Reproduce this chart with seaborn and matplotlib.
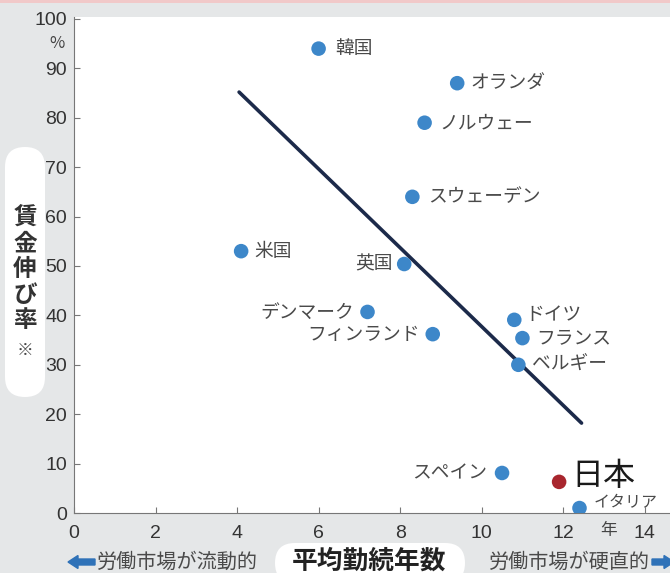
import pandas as pd
import matplotlib.pyplot as plt
import matplotlib.patches as mpatches
import seaborn as sns

# data
countries = ['韓国', 'オランダ', 'ノルウェー', 'スウェーデン', '米国', '英国', 'デンマーク',
             'フィンランド', 'ドイツ', 'フランス', 'ベルギー', 'スペイン', '日本', 'イタリア']
tenure = [6.0, 9.4, 8.6, 8.3, 4.1, 8.1, 7.2, 8.8, 10.8, 11.0, 10.9, 10.5, 11.9, 12.4]
wage_growth = [94, 87, 79, 64, 53, 50.4, 40.7, 36.2, 39.1, 35.4, 30.0, 8.1, 6.3, 1.0]
group = ['other'] * 12 + ['japan', 'other']
trend_x = [4.05, 12.45]
trend_y = [85.2, 18.2]

df = pd.DataFrame({'country': countries, 'tenure': tenure, 'wage': wage_growth, 'group': group})
trend = pd.DataFrame({'x': trend_x, 'y': trend_y})

sns.set_style('ticks')
plt.rcParams['font.family'] = ['Noto Sans CJK JP', 'DejaVu Sans']

bg = '#e5e7e8'
fig = plt.figure(figsize=(6.7, 5.73), dpi=100, facecolor=bg)
ax = fig.add_axes([74 / 670, 1 - 513 / 573, 1 - 74 / 670, (513 - 17) / 573])
ax.set_facecolor('white')

sns.lineplot(data=trend, x='x', y='y', color='#1c2a4a', linewidth=2.6, ax=ax)
sns.scatterplot(data=df, x='tenure', y='wage', hue='group',
                palette={'other': '#3d87c9', 'japan': '#a8262e'},
                s=110, edgecolor='none', legend=False, ax=ax, zorder=3)

# label placement (offset in points, alignment, size)
label_pos = {
    '韓国': (12, 0, 'left', 13.5), 'オランダ': (9.5, 0, 'left', 13.5),
    'ノルウェー': (11, 0, 'left', 13.5), 'スウェーデン': (11, 0, 'left', 13.5),
    '米国': (9.5, 0, 'left', 13.5), '英国': (-8, 0, 'right', 13.5),
    'デンマーク': (-10, 0, 'right', 13.5), 'フィンランド': (-9, 0, 'right', 13.5),
    'ドイツ': (8, 4, 'left', 13.5), 'フランス': (10, 0, 'left', 13.5),
    'ベルギー': (9.5, 0, 'left', 13.5), 'スペイン': (-11, 0, 'right', 13.5),
    'イタリア': (10, 4, 'left', 11.5), '日本': (9, 4, 'left', 23),
}
for c, x, y in zip(countries, tenure, wage_growth):
    dx, dy, ha, fs = label_pos[c]
    ax.annotate(c, (x, y), xytext=(dx, dy), textcoords='offset points', ha=ha, va='center',
                fontsize=fs, color='#1a1a1a' if c == '日本' else '#4a4a4a')

ax.set_xlim(0, 14.62)
ax.set_ylim(0, 100.4)
ax.set_xticks(range(0, 15, 2))
ax.set_yticks(range(0, 101, 10))
ax.tick_params(direction='in', length=4, width=0.8, color='#777777', labelsize=14,
               labelcolor='#333333', pad=5)
ax.tick_params(axis='x', pad=9)
for lab in ax.get_xticklabels() + ax.get_yticklabels():
    lab.set_family(['Liberation Sans Narrow', 'Liberation Sans'])
sns.despine(ax=ax)
ax.spines['left'].set_color('#777777')
ax.spines['bottom'].set_color('#777777')
ax.set_xlabel('')
ax.set_ylabel('')

# unit marks
fig.text(57 / 670, 1 - 44 / 573, '%', ha='center', va='center', fontsize=12, color='#444444')
fig.text(609 / 670, 1 - 531 / 573, '年', ha='center', va='center', fontsize=12, color='#444444')

# pink line on top
fig.patches.append(mpatches.Rectangle((0, 1 - 3 / 573), 1, 3 / 573, transform=fig.transFigure,
                                      facecolor='#f1c9c9', edgecolor='none'))

# y axis label pill
fig.patches.append(mpatches.FancyBboxPatch((5 / 100, (573 - 397) / 100), 0.40, 2.50,
                                           boxstyle='round,pad=0,rounding_size=0.2',
                                           transform=fig.dpi_scale_trans,
                                           facecolor='white', edgecolor='none'))
for i, ch in enumerate('賃金伸び率'):
    fig.text(25 / 670, 1 - (218 + i * 25.5) / 573, ch, ha='center', va='center',
             fontsize=17, fontweight='bold', color='#333333')
fig.text(25 / 670, 1 - 350 / 573, '※', ha='center', va='center', fontsize=12, color='#444444')

# x axis label pill
fig.patches.append(mpatches.FancyBboxPatch((275 / 100, -0.1), 1.9, 0.40,
                                           boxstyle='round,pad=0,rounding_size=0.2',
                                           transform=fig.dpi_scale_trans,
                                           facecolor='white', edgecolor='none'))
fig.text(369 / 670, 1 - 561 / 573, '平均勤続年数', ha='center', va='center',
         fontsize=18.5, fontweight='bold', color='#222222')

# market notes with arrows
fig.text(97 / 670, 1 - 562 / 573, '労働市場が流動的', ha='left', va='center', fontsize=14.5, color='#4a4a4a')
fig.text(650 / 670, 1 - 562 / 573, '労働市場が硬直的', ha='right', va='center', fontsize=14.5, color='#4a4a4a')
arrow_col = '#2f72b8'
fig.patches.append(mpatches.FancyArrow(0.95, 0.11, -0.27, 0, width=0.06, head_width=0.13,
                                       head_length=0.1, length_includes_head=True,
                                       transform=fig.dpi_scale_trans, color=arrow_col))
fig.patches.append(mpatches.FancyArrow(6.52, 0.11, 0.22, 0, width=0.06, head_width=0.13,
                                       head_length=0.1, length_includes_head=True,
                                       transform=fig.dpi_scale_trans, color=arrow_col))

fig.savefig('out.png', dpi=100, facecolor=bg)
